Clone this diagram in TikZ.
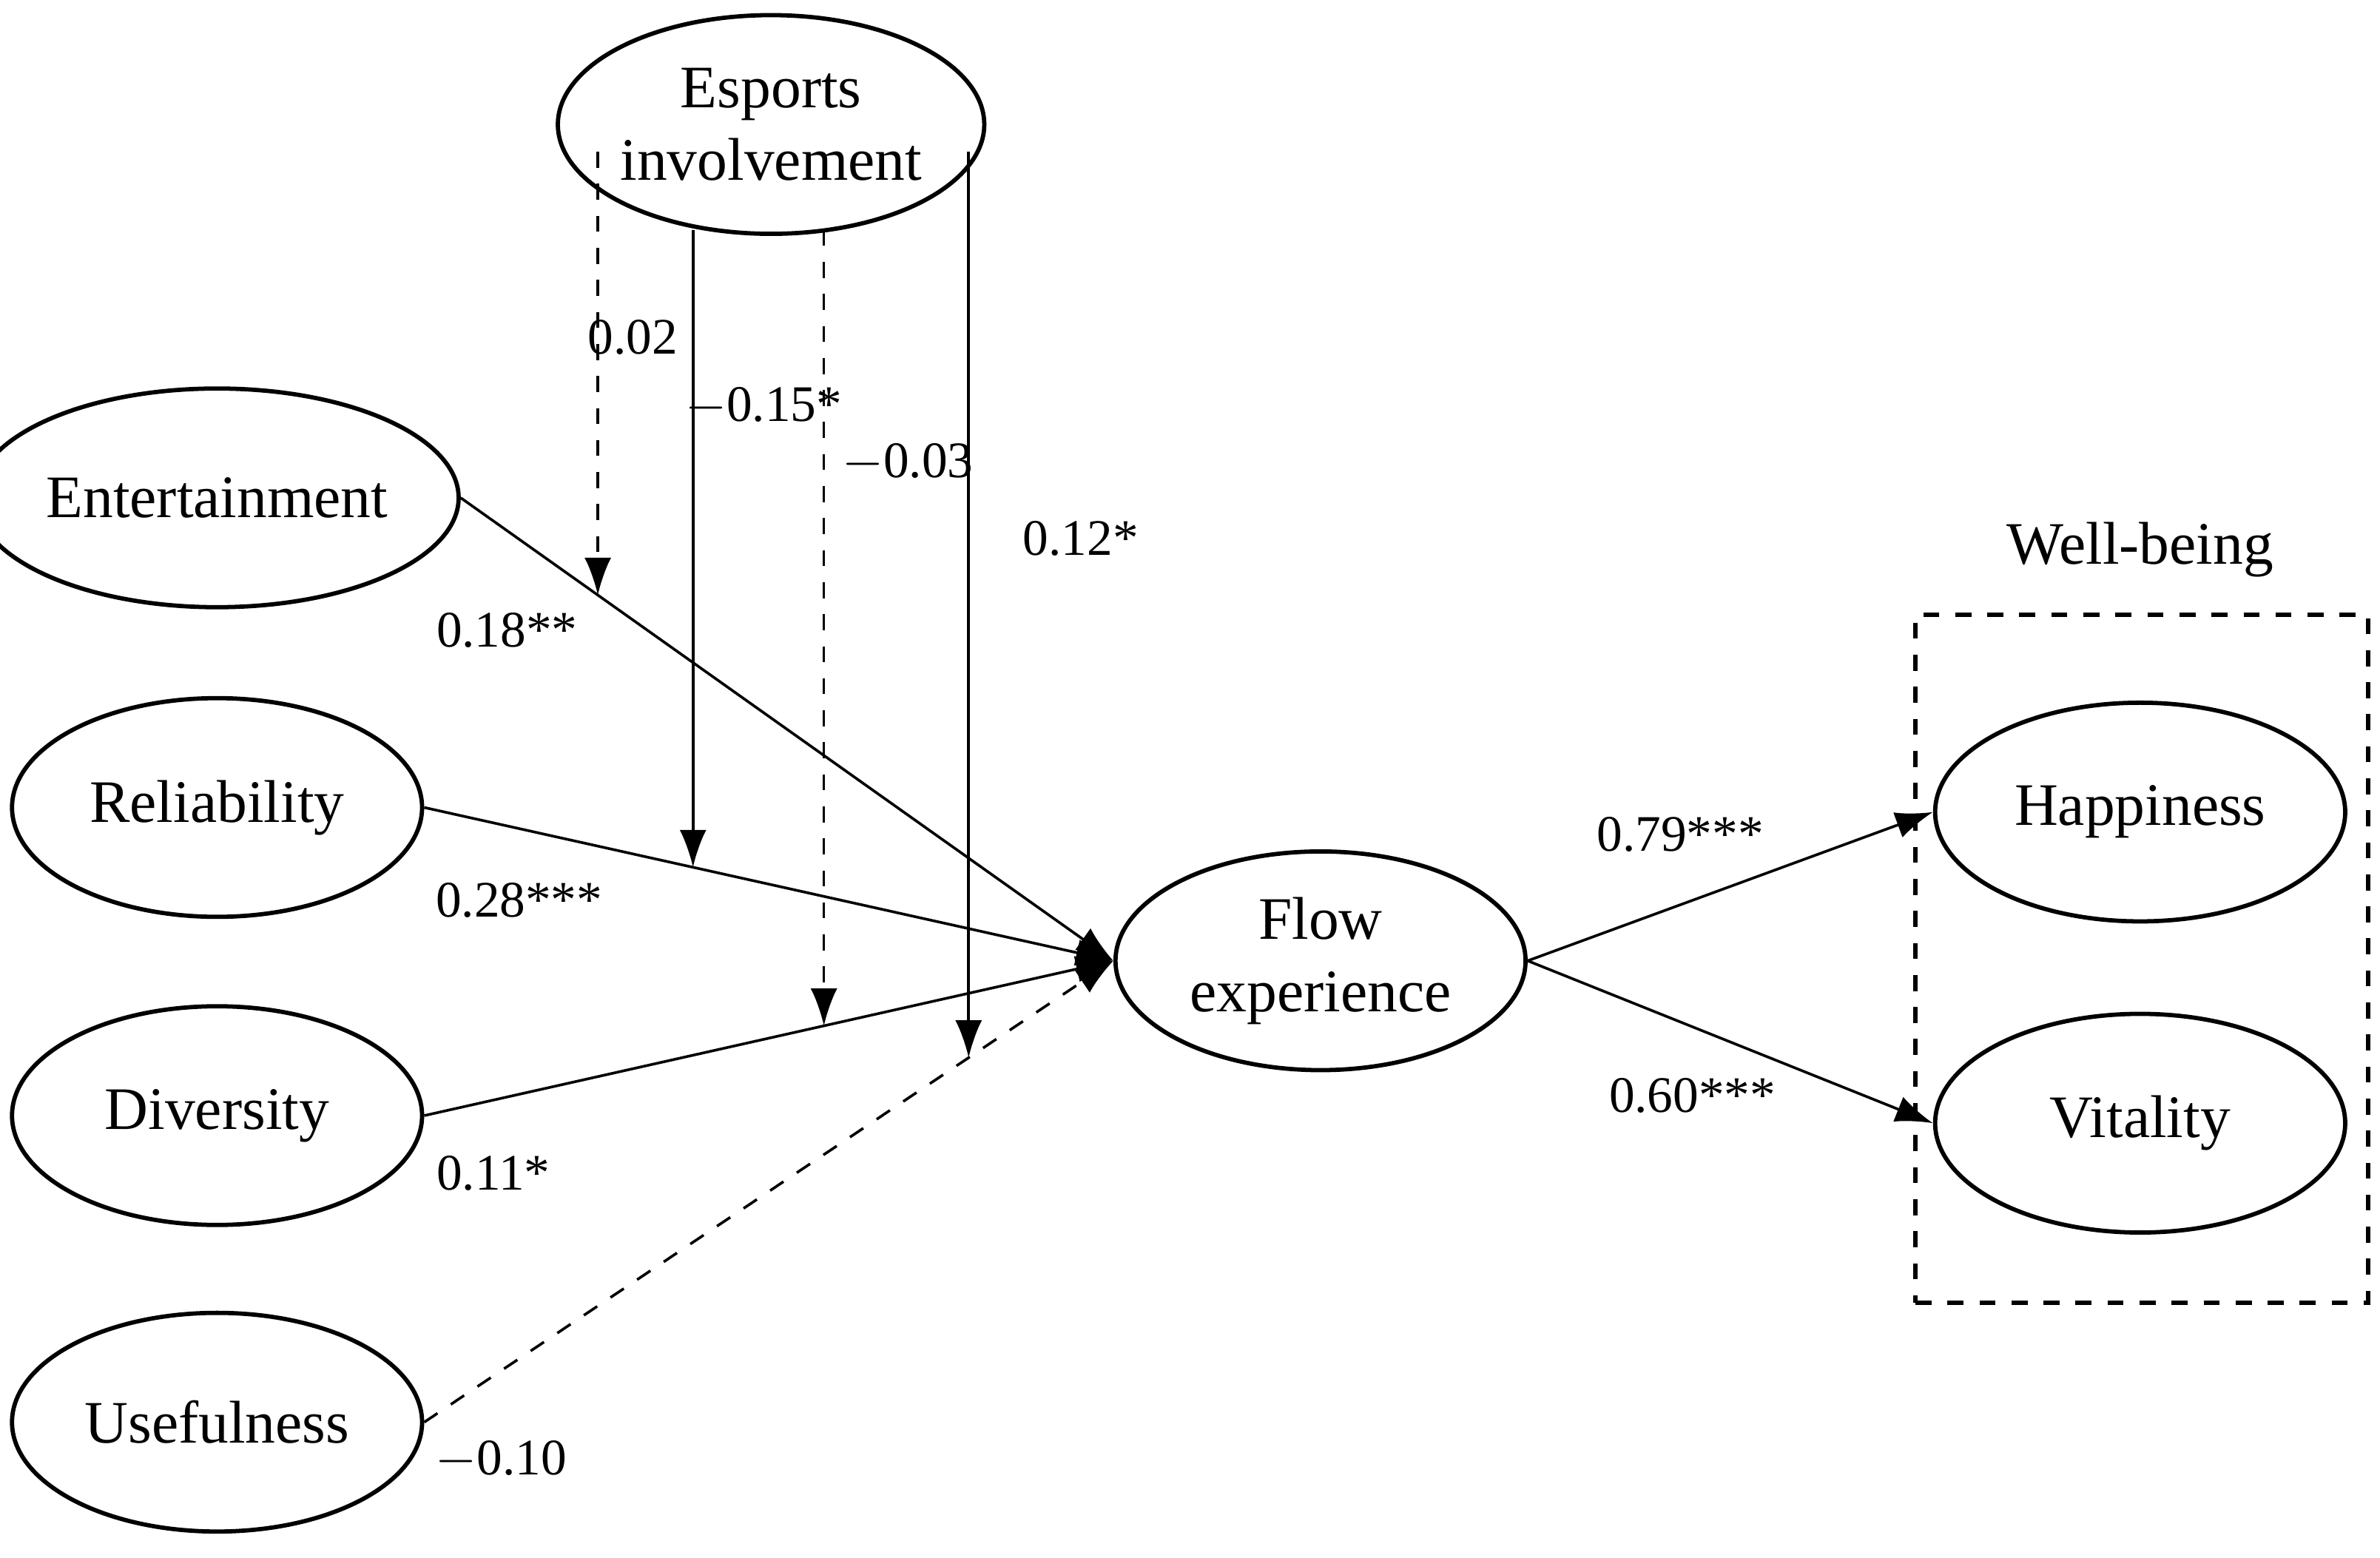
\documentclass[tikz,border=0pt]{standalone}
\usepackage{fontspec}
\setmainfont{Liberation Serif}
\usetikzlibrary{arrows.meta,shapes.geometric}

\begin{document}
\begin{tikzpicture}[x=0.01cm,y=-0.01cm,>={Latex[length=7pt,width=5pt]},
    var/.style={ellipse, draw, thick, minimum width=2.7cm, minimum height=1.44cm, inner sep=0pt, align=center, font=\fontsize{11.3}{13.5}\selectfont},
    coef/.style={font=\fontsize{9.6}{11}\selectfont},
    path/.style={->, line width=0.5pt}]
      \useasboundingbox (0,0) rectangle (1568,1026);
      \node [var] (esports) at (508, 82) {Esports\\involvement};
      \node [var] (entertainment) at (143, 328) {Entertainment};
      \node [var] (reliability) at (143, 532) {Reliability};
      \node [var] (diversity) at (143, 735) {Diversity};
      \node [var] (usefulness) at (143, 937) {Usefulness};
      \node [var] (flow) at (870, 633) {Flow\\experience};
      \node [var] (happiness) at (1410, 535) {Happiness};
      \node [var] (vitality) at (1410, 740) {Vitality};
      \node [draw, dashed, thick, minimum width=2.98cm, minimum height=4.53cm] (wellbox) at (1411, 631.5) {};
      \node [font=\fontsize{11.3}{13.5}\selectfont] (wellbeing) at (1410, 362) {Well-being};
      % paths to flow
      \draw [path] (entertainment.east) -- coordinate[pos=0.21] (m1) (flow.west);
      \draw [path] (reliability.east) -- coordinate[pos=0.39] (m2) (flow.west);
      \draw [path] (diversity.east) -- coordinate[pos=0.58] (m3) (flow.west);
      \draw [path, dashed] (usefulness.east) -- coordinate[pos=0.79] (m4) (flow.west);
      % moderation
      \draw [path, dashed] (m1 |- esports.west) ++(0,18) -- (m1);
      \draw [path] (m2 |- esports.south) ++(0,-4) -- (m2);
      \draw [path, dashed] (m3 |- esports.south) ++(0,-4) -- (m3);
      \draw [path] (m4 |- esports.east) ++(0,18) -- (m4);
      % outcomes
      \draw [path] (flow.east) -- (happiness.west);
      \draw [path] (flow.east) -- (vitality.west);
      % coefficients
      \node [coef] (c1) at (417, 222) {0.02};
      \node [coef] (c2) at (503, 268) {$-$0.15*};
      \node [coef] (c3) at (598, 305) {$-$0.03};
      \node [coef] (c4) at (712, 355) {0.12*};
      \node [coef] (c5) at (334, 415) {0.18**};
      \node [coef] (c6) at (342, 593) {0.28***};
      \node [coef] (c7) at (325, 773) {0.11*};
      \node [coef] (c8) at (330, 962) {$-$0.10};
      \node [coef] (c9) at (1107, 550) {0.79***};
      \node [coef] (c10) at (1115, 722) {0.60***};
\end{tikzpicture}
\end{document}
